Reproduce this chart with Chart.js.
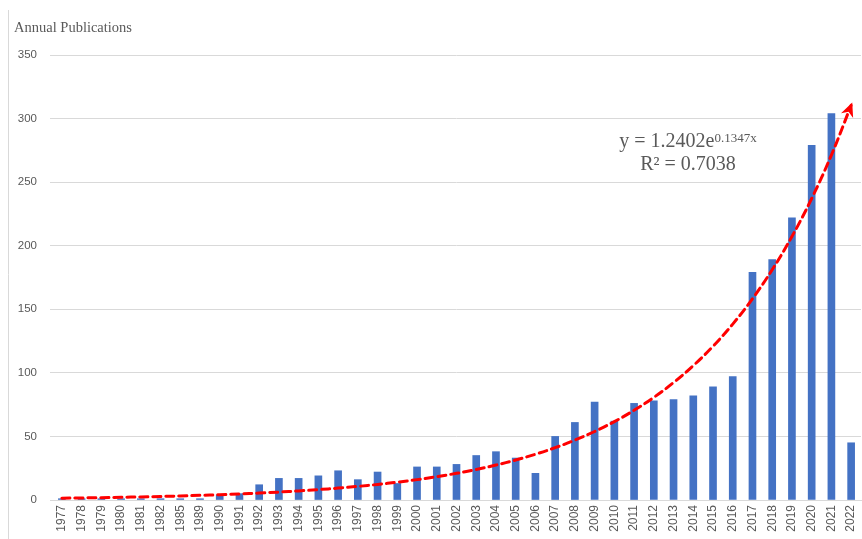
<!DOCTYPE html>
<html>
<head>
<meta charset="utf-8">
<script src="https://cdn.jsdelivr.net/npm/chart.js@4.4.1/dist/chart.umd.min.js"></script>
<style>
  html, body { margin: 0; padding: 0; background: #ffffff; }
  #wrap { width: 862px; height: 539px; position: relative; }
</style>
</head>
<body>
<div id="wrap"><canvas id="chart" width="862" height="539"></canvas></div>
<script>
// Publication years and counts
const years = ['1977','1978','1979','1980','1981','1982','1985','1989','1990','1991',
  '1992','1993','1994','1995','1996','1997','1998','1999','2000','2001',
  '2002','2003','2004','2005','2006','2007','2008','2009','2010','2011',
  '2012','2013','2014','2015','2016','2017','2018','2019','2020','2021','2022'];
const publications = [1,1,1,1,1,1,1,1,4,5,
  12,17,17,19,23,16,22,13,26,26,
  28,35,38,33,21,50,61,77,62,76,
  78,79,82,89,97,179,189,222,279,304,45];
const yTicks = [0,50,100,150,200,250,300,350];

// Exponential trend: y = A * e^(k x), x = 1..n
const trendA = 1.2402;
const trendK = 0.1347;
const trendR2 = 0.7038;
const trend = years.map((_, i) => trendA * Math.exp(trendK * (i + 1)));

const GRID = '#d9d9d9';
const TEXT = '#595959';

const decorations = {
  id: 'decorations',
  afterDatasetsDraw(chart) {
    const ctx = chart.ctx;
    // arrow head at the end of the trend line
    const meta = chart.getDatasetMeta(1);
    const pts = meta.data;
    const p1 = pts[pts.length - 1];
    const p0 = pts[pts.length - 2];
    const ang = Math.atan2(p1.y - p0.y, p1.x - p0.x);
    ctx.save();
    ctx.translate(p1.x, p1.y);
    ctx.rotate(ang);
    ctx.fillStyle = '#ff0000';
    ctx.beginPath();
    ctx.moveTo(3, 0);
    ctx.lineTo(-11, -6.5);
    ctx.lineTo(-7, 0);
    ctx.lineTo(-11, 6.5);
    ctx.closePath();
    ctx.fill();
    ctx.restore();
  },
  afterDraw(chart) {
    const ctx = chart.ctx;
    ctx.save();
    // left frame line
    ctx.strokeStyle = GRID;
    ctx.lineWidth = 1;
    ctx.beginPath();
    ctx.moveTo(8.5, 10);
    ctx.lineTo(8.5, 539);
    ctx.stroke();

    // axis title
    ctx.fillStyle = TEXT;
    ctx.font = '14.5px "Liberation Serif", "Times New Roman", serif';
    ctx.textAlign = 'left';
    ctx.textBaseline = 'alphabetic';
    ctx.fillText('Annual Publications', 14, 32);

    // trend equation
    const cx = 688;
    const main = 'y = ' + trendA.toFixed(4) + 'e';
    const sup = trendK.toFixed(4) + 'x';
    ctx.font = '20px "Liberation Serif", "Times New Roman", serif';
    const wMain = ctx.measureText(main).width;
    ctx.font = '13px "Liberation Serif", "Times New Roman", serif';
    const wSup = ctx.measureText(sup).width;
    const x0 = cx - (wMain + wSup) / 2;
    ctx.font = '20px "Liberation Serif", "Times New Roman", serif';
    ctx.fillText(main, x0, 147);
    ctx.font = '13px "Liberation Serif", "Times New Roman", serif';
    ctx.fillText(sup, x0 + wMain, 142);

    ctx.font = '20px "Liberation Serif", "Times New Roman", serif';
    ctx.textAlign = 'center';
    ctx.fillText('R\u00B2 = ' + trendR2.toFixed(4), cx, 170);
    ctx.restore();
  }
};

new Chart(document.getElementById('chart'), {
  data: {
    labels: years,
    datasets: [
      {
        type: 'bar',
        label: 'Annual Publications',
        data: publications,
        backgroundColor: '#4472c4',
        borderWidth: 0,
        barThickness: 7,
        order: 2
      },
      {
        type: 'line',
        label: 'Trend',
        data: trend,
        borderColor: '#ff0000',
        borderWidth: 3,
        borderDash: [8, 5],
        borderCapStyle: 'round',
        pointRadius: 0,
        tension: 0.4,
        fill: false,
        order: 1
      }
    ]
  },
  options: {
    responsive: false,
    animation: false,
    layout: { padding: { left: 0, top: 55, right: 1, bottom: 0 } },
    plugins: {
      legend: { display: false },
      tooltip: { enabled: false },
      title: { display: false }
    },
    scales: {
      x: {
        offset: true,
        grid: { display: false, drawTicks: false },
        border: { display: true, color: GRID, width: 1 },
        ticks: {
          color: TEXT,
          font: { family: '"Liberation Sans", Arial, sans-serif', size: 12 },
          minRotation: 90,
          maxRotation: 90,
          autoSkip: false,
          padding: 5
        },
        afterFit(scale) {
          scale.height = 39;
          scale.paddingLeft = 0;
          scale.paddingRight = 0;
        }
      },
      y: {
        min: 0,
        max: 350,
        afterBuildTicks(scale) { scale.ticks = yTicks.map(v => ({ value: v })); },
        grid: { color: GRID, lineWidth: 1, drawTicks: true, tickLength: 2 },
        border: { display: false },
        ticks: {
          color: TEXT,
          font: { family: '"Liberation Sans", Arial, sans-serif', size: 11.5 },
          padding: 13
        },
        afterFit(scale) { scale.width = 52; }
      }
    }
  },
  plugins: [decorations]
});
</script>
</body>
</html>
